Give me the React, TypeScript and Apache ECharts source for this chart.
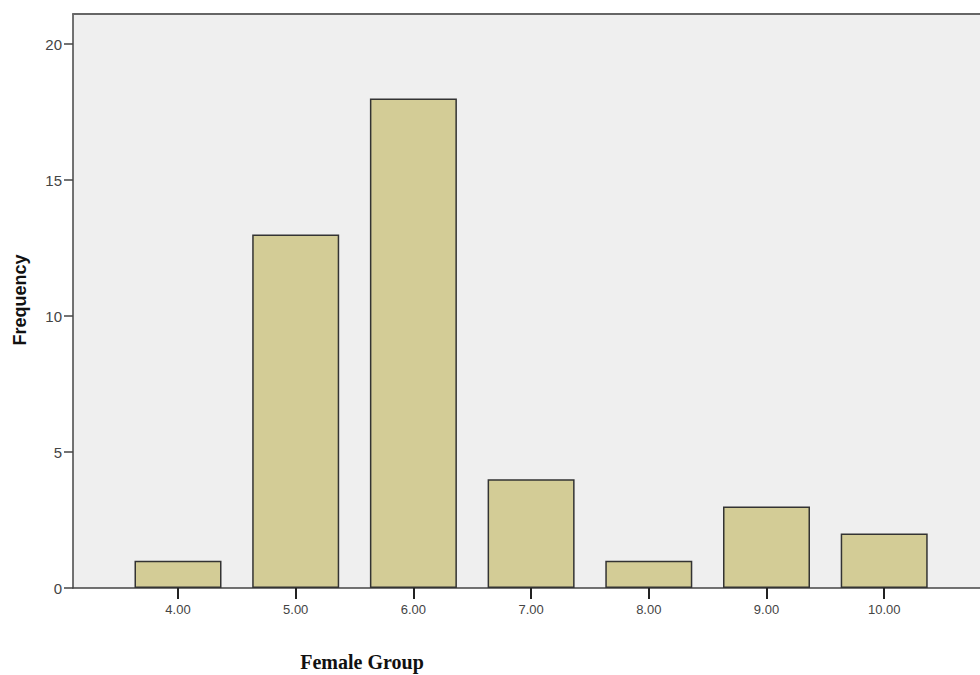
import React, { useEffect, useRef } from "react";
import * as echarts from "echarts";

const categories = [4, 5, 6, 7, 8, 9, 10];
const frequencies = [1, 13, 18, 4, 1, 3, 2];
const yTicks = [0, 5, 10, 15, 20];
const xTitle = "Female Group";
const yTitle = "Frequency";

export default function App() {
  const ref = useRef<HTMLDivElement>(null);
  useEffect(() => {
    if (!ref.current) return;
    const chart = echarts.init(ref.current, null, { renderer: "svg" });
    const gridLeft = 73;
    const gridTop = 14;
    const gridBottom = 87;
    const gridWidth = 980 - gridLeft;
    const pxPerUnitX = 117.7;
    const xMin = 4 - (178 - gridLeft) / pxPerUnitX;
    const xMax = xMin + gridWidth / pxPerUnitX;
    const pxPerUnitY = 27.2;
    const yMax = (675 - gridBottom - gridTop) / pxPerUnitY;

    chart.setOption({
      animation: false,
      grid: {
        left: gridLeft,
        top: gridTop,
        right: 0,
        bottom: gridBottom,
        show: true,
        backgroundColor: "#efefef",
        borderWidth: 0,
      },
      xAxis: [
        {
          type: "value",
          position: "bottom",
          min: xMin,
          max: xMax,
          splitLine: { show: false },
          axisLine: { show: true, lineStyle: { color: "#444", width: 1.5 } },
          axisTick: {
            show: true,
            length: 11,
            lineStyle: { color: "#222", width: 2 },
            customValues: categories,
          },
          axisLabel: {
            customValues: categories,
            formatter: (v: number) => v.toFixed(2),
            color: "#444",
            fontSize: 13,
            fontFamily: "Liberation Sans, Arial, sans-serif",
            margin: 15,
          },
        },
        {
          type: "value",
          position: "top",
          min: xMin,
          max: xMax,
          splitLine: { show: false },
          axisLine: { show: true, lineStyle: { color: "#666", width: 2 } },
          axisTick: { show: false },
          axisLabel: { show: false },
        },
      ],
      yAxis: {
        type: "value",
        min: 0,
        max: yMax,
        splitLine: { show: false },
        axisLine: { show: true, lineStyle: { color: "#444", width: 1.5 } },
        axisTick: {
          show: true,
          length: 9,
          lineStyle: { color: "#444", width: 1.5 },
          customValues: yTicks,
        },
        axisLabel: {
          customValues: yTicks,
          color: "#444",
          fontSize: 15,
          fontFamily: "Liberation Sans, Arial, sans-serif",
          margin: 11,
        },
      },
      series: [
        {
          type: "bar",
          xAxisIndex: 0,
          data: categories.map((c, i) => [c, frequencies[i]]),
          barWidth: 87,
          itemStyle: {
            color: "#d3cc96",
            borderColor: "#333",
            borderWidth: 1.5,
          },
        },
      ],
      graphic: [
        {
          type: "text",
          x: 362,
          y: 662,
          style: {
            text: xTitle,
            font: "bold 20px 'Liberation Serif', 'Times New Roman', serif",
            fill: "#111",
            textAlign: "center",
            textVerticalAlign: "middle",
          },
        },
        {
          type: "text",
          x: 20,
          y: 300,
          rotation: Math.PI / 2,
          style: {
            text: yTitle,
            font: "bold 18px 'Liberation Sans', Arial, sans-serif",
            fill: "#111",
            textAlign: "center",
            textVerticalAlign: "middle",
          },
        },
      ],
    });
    return () => chart.dispose();
  }, []);
  return (
    <div
      ref={ref}
      style={{ position: "absolute", left: 0, top: 0, width: 980, height: 675, background: "#fff" }}
    />
  );
}
